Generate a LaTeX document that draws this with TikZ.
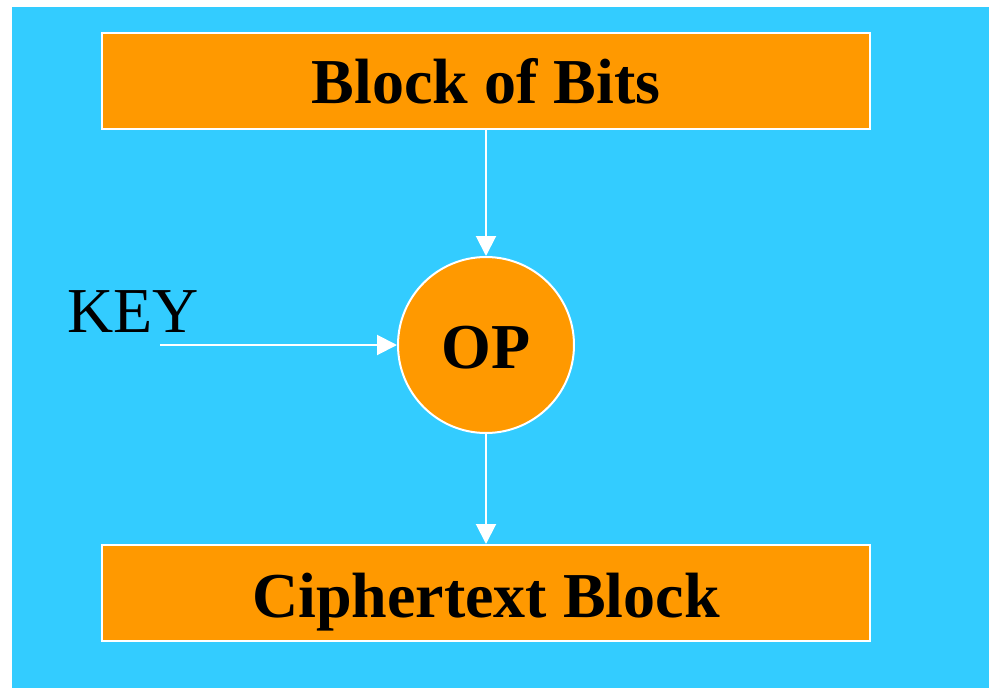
\documentclass[tikz,border=0pt]{standalone}
\usepackage{fontspec}
\setmainfont{Liberation Serif}
\usetikzlibrary{arrows.meta}
\definecolor{skyfill}{HTML}{33CCFF}
\definecolor{orangefill}{HTML}{FF9900}
\tikzset{
  bigtext/.style={font=\fontsize{64}{70}\selectfont},
  blockbox/.style={draw=white, line width=2pt, fill=orangefill, minimum width=768pt, minimum height=96pt, inner sep=0pt},
  opcircle/.style={circle, draw=white, line width=2pt, fill=orangefill, minimum size=176pt, inner sep=0pt},
  flow/.style={draw=white, line width=2pt, -{Triangle[width=20pt,length=20pt]}}
}
\begin{document}
\begin{tikzpicture}[x=1pt,y=-1pt]
  \useasboundingbox (0,0) rectangle (989,688);
  % backdrop
  \fill[skyfill] (12,7) rectangle (989,688);
  % boxes and operation
  \node[blockbox] (bits) at (486,81) {};
  \node[blockbox] (cipher) at (486,593) {};
  \node[opcircle] (op) at (486,345) {};
  % labels
  \node[bigtext, font=\bfseries\fontsize{64}{70}\selectfont, anchor=base, inner sep=0pt] (bitslbl) at (486,103) {Block of Bits};
  \node[bigtext, font=\bfseries\fontsize{64}{70}\selectfont, anchor=base, inner sep=0pt] (cipherlbl) at (486,617) {Ciphertext Block};
  \node[bigtext, font=\bfseries\fontsize{64}{70}\selectfont, anchor=base, inner sep=0pt] (oplbl) at (486,368) {OP};
  \node[bigtext, anchor=base west, inner sep=0pt] (key) at (67,332) {KEY};
  \coordinate (keystart) at (160,345);
  % connectors
  \draw[flow] (bits.south) -- (op.north);
  \draw[flow] (op.south) -- (cipher.north);
  \draw[flow] (keystart) -- (op.west);
\end{tikzpicture}
\end{document}
